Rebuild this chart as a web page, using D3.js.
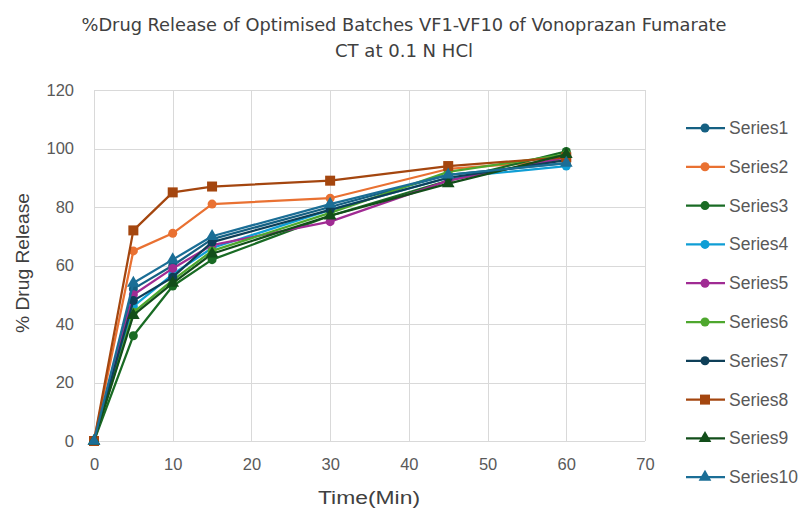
<!DOCTYPE html>
<html>
<head>
<meta charset="utf-8">
<script src="https://cdn.jsdelivr.net/npm/d3@7"></script>
<style>
  html, body { margin: 0; padding: 0; background: #fff; }
  svg { display: block; }
</style>
</head>
<body>
<svg id="chart" width="807" height="509"></svg>
<script>
// Sampling times (minutes)
const times = [0, 5, 10, 15, 30, 45, 60];

// Cumulative % drug release for batches VF1–VF10
const series1  = [0, 52, 60, 69, 80, 91, 95];
const series2  = [0, 65, 71, 81, 83, 93, 96];
const series3  = [0, 36, 53, 62, 77, 89, 99];
const series4  = [0, 46, 57, 66, 79, 90, 94];
const series5  = [0, 50, 59, 67, 75, 89, 97];
const series6  = [0, 44, 55, 65, 78, 92, 98];
const series7  = [0, 48, 56, 68, 79, 90, 96];
const series8  = [0, 72, 85, 87, 89, 94, 97];
const series9  = [0, 43, 54, 64, 77, 88, 98];
const series10 = [0, 54, 62, 70, 81, 91, 95];

const seriesNames = ["Series1", "Series2", "Series3", "Series4", "Series5",
                     "Series6", "Series7", "Series8", "Series9", "Series10"];
const seriesValues = [series1, series2, series3, series4, series5,
                      series6, series7, series8, series9, series10];

const xTicks = [0, 10, 20, 30, 40, 50, 60, 70];
const yTicks = [0, 20, 40, 60, 80, 100, 120];

const titleLines = ["%Drug Release of Optimised Batches VF1-VF10 of Vonoprazan Fumarate",
                    "CT at 0.1 N HCl"];
const xTitle = "Time(Min)";
const yTitle = "% Drug Release";

// Styling per series
const colors = ["#156082", "#E97132", "#196B24", "#0F9ED5", "#A02B93",
                "#4EA72E", "#0E3F58", "#A4460F", "#124E1A", "#1B6E96"];
const shapes = ["circle", "circle", "circle", "circle", "circle",
                "circle", "circle", "square", "triangle", "triangle"];

const svg = d3.select("#chart");
const plot = { left: 94, right: 645, top: 90, bottom: 441 };

const x = d3.scaleLinear().domain([0, 70]).range([plot.left, plot.right]);
const y = d3.scaleLinear().domain([0, 120]).range([plot.bottom, plot.top]);

// Title
const title = svg.append("g").attr("font-family", "'DejaVu Sans Condensed', 'Liberation Sans', sans-serif")
  .attr("fill", "#404040").attr("text-anchor", "middle");
title.append("text").attr("x", 404).attr("y", 31).attr("font-size", 17)
  .attr("textLength", 645).attr("lengthAdjust", "spacingAndGlyphs").text(titleLines[0]);
title.append("text").attr("x", 404).attr("y", 57).attr("font-size", 17)
  .attr("textLength", 138).attr("lengthAdjust", "spacingAndGlyphs").text(titleLines[1]);

// Gridlines
const grid = svg.append("g").attr("stroke", "#D9D9D9").attr("stroke-width", 1);
grid.selectAll("line.h").data(yTicks).join("line")
  .attr("x1", plot.left).attr("x2", plot.right)
  .attr("y1", d => Math.round(y(d)) + 0.5).attr("y2", d => Math.round(y(d)) + 0.5);
grid.selectAll("line.v").data(xTicks).join("line")
  .attr("y1", plot.top).attr("y2", plot.bottom)
  .attr("x1", d => Math.round(x(d)) + 0.5).attr("x2", d => Math.round(x(d)) + 0.5);

// Axes (labels only; gridlines drawn above)
const axisFont = "'Liberation Sans', Arial, sans-serif";
const xAxis = svg.append("g").attr("transform", `translate(0,${plot.bottom})`)
  .call(d3.axisBottom(x).tickValues(xTicks).tickSize(0).tickPadding(17));
const yAxis = svg.append("g").attr("transform", `translate(${plot.left},0)`)
  .call(d3.axisLeft(y).tickValues(yTicks).tickSize(0).tickPadding(20));
[xAxis, yAxis].forEach(a => {
  a.select(".domain").remove();
  a.selectAll("text").attr("font-family", axisFont).attr("font-size", 16.5).attr("fill", "#595959");
});

// Axis titles
svg.append("text").attr("x", 369).attr("y", 504).attr("text-anchor", "middle")
  .attr("font-family", axisFont).attr("font-size", 18).attr("fill", "#404040")
  .attr("textLength", 102).attr("lengthAdjust", "spacingAndGlyphs").text(xTitle);
svg.append("text").attr("transform", "translate(29,263) rotate(-90)").attr("text-anchor", "middle")
  .attr("font-family", axisFont).attr("font-size", 18).attr("fill", "#404040")
  .attr("textLength", 140).attr("lengthAdjust", "spacingAndGlyphs").text(yTitle);

// Marker drawing
function drawMarker(sel, shape, color) {
  if (shape === "circle") {
    sel.append("circle").attr("r", 4.5).attr("fill", color);
  } else if (shape === "square") {
    sel.append("rect").attr("x", -5).attr("y", -5).attr("width", 10).attr("height", 10).attr("fill", color);
  } else {
    sel.append("path").attr("d", d3.symbol().type(d3.symbolTriangle).size(70)()).attr("fill", color);
  }
}

// Series lines and markers
const line = d3.line().x(d => x(d[0])).y(d => y(d[1]));
seriesValues.forEach((vals, i) => {
  const pts = times.map((t, j) => [t, vals[j]]);
  const g = svg.append("g");
  g.append("path").datum(pts).attr("d", line)
    .attr("fill", "none").attr("stroke", colors[i]).attr("stroke-width", 2.25)
    .attr("stroke-linejoin", "round");
  pts.forEach(p => {
    const m = g.append("g").attr("transform", `translate(${x(p[0])},${y(p[1])})`);
    drawMarker(m, shapes[i], colors[i]);
  });
});

// Legend
const legend = svg.append("g");
seriesNames.forEach((name, i) => {
  const ly = 128 + i * 38.8;
  const item = legend.append("g").attr("transform", `translate(0,${ly})`);
  item.append("line").attr("x1", 686).attr("x2", 725).attr("y1", 0).attr("y2", 0)
    .attr("stroke", colors[i]).attr("stroke-width", 2.25);
  const m = item.append("g").attr("transform", "translate(705,0)");
  drawMarker(m, shapes[i], colors[i]);
  item.append("text").attr("x", 729).attr("y", 6).attr("font-family", axisFont)
    .attr("font-size", 17.5).attr("fill", "#595959").text(name);
});
</script>
</body>
</html>
